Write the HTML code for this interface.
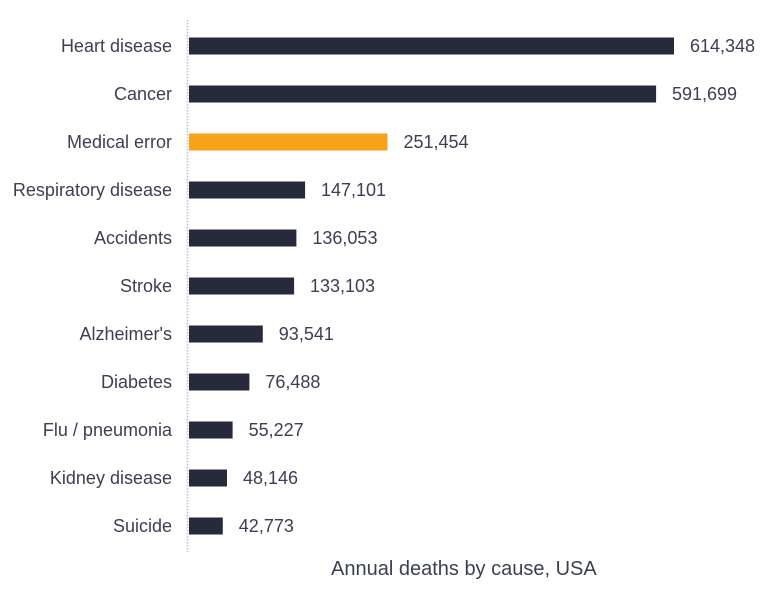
<!DOCTYPE html>
<html><head><style>
body{margin:0;background:#fff;}
svg text{font-family:"Liberation Sans",Arial,sans-serif;font-size:18px;fill:#3b3f52;}
</style></head><body>
<svg width="764" height="602" xmlns="http://www.w3.org/2000/svg">
<line x1="187.5" y1="20" x2="187.5" y2="552" stroke="#b8bcd8" stroke-width="1.5" stroke-dasharray="1.5,1.5"/>
<g fill="#272a3a">
<rect x="189" y="37.5" width="485" height="17"/>
<rect x="189" y="85.5" width="467.1" height="17"/>
<rect x="189" y="133.5" width="198.5" height="17" fill="#f7a21b"/>
<rect x="189" y="181.5" width="116.1" height="17"/>
<rect x="189" y="229.5" width="107.4" height="17"/>
<rect x="189" y="277.5" width="105.1" height="17"/>
<rect x="189" y="325.5" width="73.8" height="17"/>
<rect x="189" y="373.5" width="60.4" height="17"/>
<rect x="189" y="421.5" width="43.6" height="17"/>
<rect x="189" y="469.5" width="38" height="17"/>
<rect x="189" y="517.5" width="33.8" height="17"/>
</g>
<g text-anchor="end">
<text x="172" y="52">Heart disease</text>
<text x="172" y="100">Cancer</text>
<text x="172" y="148">Medical error</text>
<text x="172" y="196">Respiratory disease</text>
<text x="172" y="244">Accidents</text>
<text x="172" y="292">Stroke</text>
<text x="172" y="340">Alzheimer's</text>
<text x="172" y="388">Diabetes</text>
<text x="172" y="436">Flu / pneumonia</text>
<text x="172" y="484">Kidney disease</text>
<text x="172" y="532">Suicide</text>
</g>
<text x="690" y="52">614,348</text>
<text x="672" y="100">591,699</text>
<text x="403.5" y="148">251,454</text>
<text x="321" y="196">147,101</text>
<text x="312.4" y="244">136,053</text>
<text x="310" y="292">133,103</text>
<text x="278.8" y="340">93,541</text>
<text x="265.4" y="388">76,488</text>
<text x="248.6" y="436">55,227</text>
<text x="243" y="484">48,146</text>
<text x="238.8" y="532">42,773</text>
<text x="331" y="575" style="font-size:20px">Annual deaths by cause, USA</text>
</svg>
</body></html>
